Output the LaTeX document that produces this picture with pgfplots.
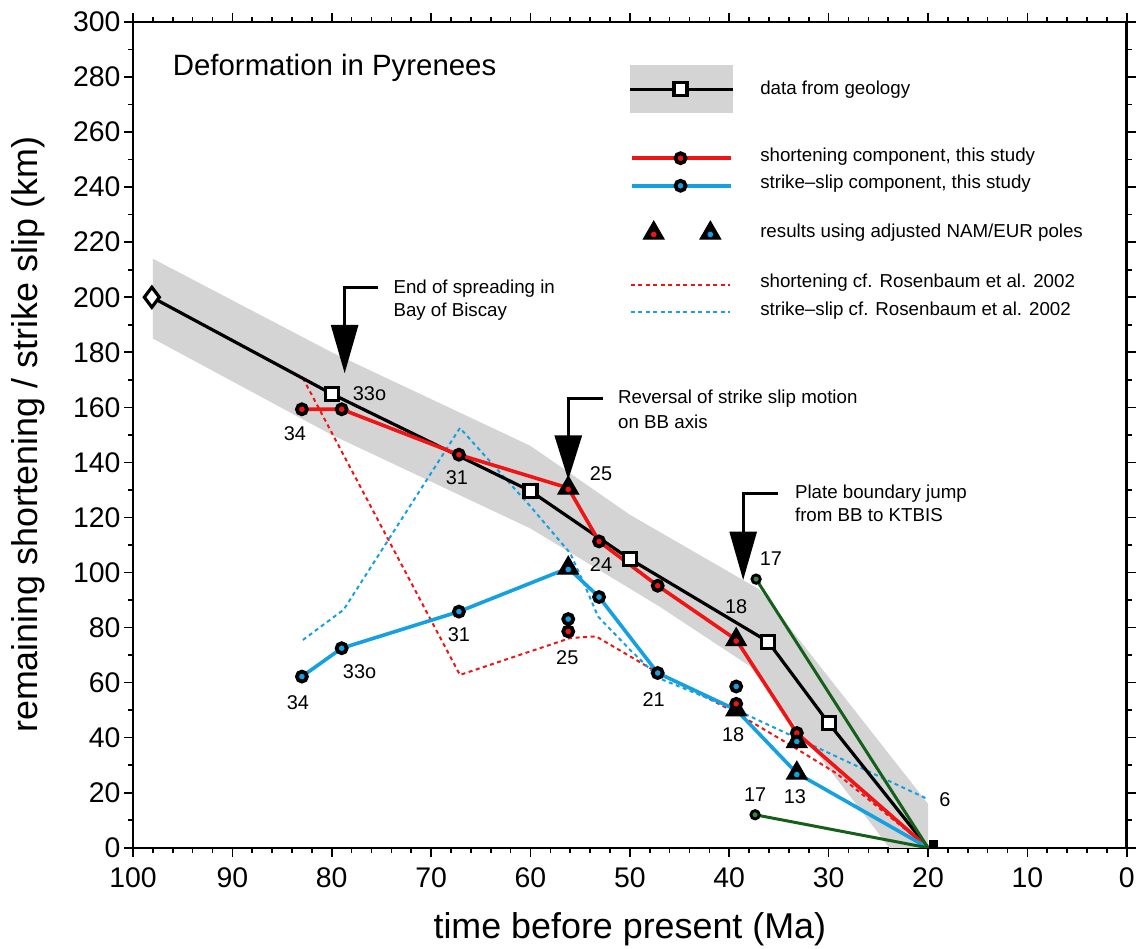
\documentclass[border=0pt]{standalone}
\usepackage{pgfplots}
\pgfplotsset{compat=1.18}
\usepackage{fontspec}
\setmainfont{Liberation Sans}
\definecolor{myred}{RGB}{240,20,20}
\definecolor{myblue}{RGB}{20,160,225}
\definecolor{mygreen}{RGB}{20,95,25}
\definecolor{band}{RGB}{212,212,212}
\begin{document}
\begin{tikzpicture}
\begin{axis}[
  scale only axis, width=994bp, height=826bp,
  x dir=reverse, xmin=0, xmax=100, ymin=0, ymax=300,
  xtick distance=10, ytick distance=20,
  minor x tick num=4, minor y tick num=1,
  tick align=outside, tick pos=both,
  major tick length=9bp, minor tick length=5bp,
  every tick/.style={black, line width=1.6bp},
  axis line style={line width=2.6bp},
  /pgf/number format/assume math mode=true,
  ticklabel style={font=\fontsize{28.5}{30}\selectfont},
  xticklabel style={yshift=-7bp},
  xlabel={time before present (Ma)},
  ylabel={remaining shortening / strike slip (km)},
  xlabel style={font=\fontsize{36}{40}\selectfont, at={(axis description cs:0.5,-0.098)}, anchor=center},
  ylabel style={font=\fontsize{36}{40}\selectfont, at={(axis description cs:-0.1056,0.5)}, anchor=center},
]
% bounding box helpers
\coordinate (bl) at (axis description cs:-0.1338,-0.1199);
\coordinate (tr) at (axis description cs:1.0111,1.0266);

% uncertainty band
\addplot[fill=band, draw=none] coordinates {
 (98,214) (80,180) (60,146) (50,121) (36.9,93.7) (20,16) (20,0) (23.9,0)
 (25.5,7.7) (37.9,65.9) (47,87.6) (60,116) (80,150) (98,185)};

% Rosenbaum et al. 2002 (dashed)
\addplot[myred, line width=2bp, dash pattern=on 4bp off 3.5bp] coordinates {
 (82.9,170.6) (67.1,62.8) (56,76.2) (53.4,76.8) (47.7,64.7) (39.3,49) (33.6,36.8) (29.2,27) (20,0)};
\addplot[myblue, line width=2bp, dash pattern=on 4bp off 3.5bp] coordinates {
 (82.9,75.5) (78.8,86.5) (67.1,152.5) (60,124) (56,107) (54.5,95) (53.2,84) (50,72) (47,61.5) (39.3,50.1) (20.2,18)};

% data from geology
\addplot[black, line width=3.2bp] coordinates {
 (98.1,200) (80,164.9) (60,129.6) (50,104.9) (36.1,74.9) (30,45.3) (20,0)};

% shortening component
\addplot[myred, line width=3.6bp] coordinates {
 (83,159.3) (79,159.3) (67.2,142.8) (56.2,130.7) (53.1,111.3) (47.2,95.2) (39.3,75.6) (33.2,41.7) (20,0)};
% strike-slip component
\addplot[myblue, line width=3.6bp] coordinates {
 (83,62.2) (79,72.5) (67.2,85.8) (56.2,101.6) (53.1,91.1) (47.2,63.5) (39.3,50.1) (33.2,27.1) (20,0)};
% green
\addplot[mygreen, line width=3bp] coordinates {(37.3,97.6) (20,0)};
\addplot[mygreen, line width=3bp] coordinates {(37.4,12) (20,0)};

% triangles (black with coloured dot)
\addplot[only marks, mark=triangle*, mark size=12bp, mark options={fill=black, draw=black, line width=1bp}] coordinates {
 (56.2,130.7) (39.3,75.6) (56.2,101.6) (33.2,27.1) (33.2,38.6) (39.3,50.1)};
\addplot[only marks, mark=*, mark size=3.2bp, mark options={fill=myred, draw=none}] coordinates {
 (56.2,130.2) (39.3,75.1)};
\addplot[only marks, mark=*, mark size=3.2bp, mark options={fill=myblue, draw=none}] coordinates {
 (56.2,101.1) (33.2,26.6) (33.2,38.1)};

% circles
\addplot[only marks, mark=*, mark size=5bp, mark options={fill=myred, draw=black, line width=3.8bp}] coordinates {
 (83,159.3) (79,159.3) (67.2,142.8) (53.1,111.3) (47.2,95.2) (56.2,78.6) (39.3,52.3) (33.2,41.7)};
\addplot[only marks, mark=*, mark size=5bp, mark options={fill=myblue, draw=black, line width=3.8bp}] coordinates {
 (83,62.2) (79,72.5) (67.2,85.8) (53.1,91.1) (47.2,63.5) (56.2,83.1) (39.3,58.6) (33.2,38.6)};
\addplot[only marks, mark=*, mark size=4.2bp, mark options={fill=mygreen!80!white, draw=black, line width=2.8bp}] coordinates {
 (37.3,97.6) (37.4,12)};

% geology markers
\addplot[only marks, mark=square*, mark size=6.5bp, mark options={fill=white, draw=black, line width=3.2bp}] coordinates {
 (80,164.9) (60,129.6) (50,104.9) (36.1,74.9) (30,45.3)};
\addplot[only marks, mark=diamond*, mark size=10bp, mark options={fill=white, draw=black, line width=3.2bp}] coordinates {(98.1,200)};
\addplot[only marks, mark=square*, mark size=4bp, mark options={fill=black, draw=black}] coordinates {(19.5,1.2)};

% point labels
\begin{scope}[every node/.style={font=\fontsize{20}{22}\selectfont, inner sep=0pt}]
\node at (axis cs:83.7,150.6) {34};
\node at (axis cs:76.2,164.9) {33o};
\node at (axis cs:67.4,134.3) {31};
\node at (axis cs:52.9,136) {25};
\node at (axis cs:52.9,102.8) {24};
\node at (axis cs:39.3,87.6) {18};
\node at (axis cs:35.8,105.2) {17};
\node at (axis cs:83.4,52.6) {34};
\node at (axis cs:77.2,64) {33o};
\node at (axis cs:67.2,77.4) {31};
\node at (axis cs:56.3,68.9) {25};
\node at (axis cs:47.6,53.8) {21};
\node at (axis cs:39.6,41) {18};
\node at (axis cs:33.4,18.6) {13};
\node at (axis cs:37.4,19.3) {17};
\node at (axis cs:18.3,17.4) {6};
\end{scope}

% title
\node[anchor=west, font=\fontsize{29.5}{32}\selectfont, inner sep=0pt] at (axis cs:96.0,283.3) {Deformation in Pyrenees};

% event arrows
\draw[line width=3bp] (axis cs:75.3,203.4) -- (axis cs:78.7,203.4) -- (axis cs:78.7,189);
\fill (axis cs:80.1,190) -- (axis cs:77.3,190) -- (axis cs:78.7,172.4) -- cycle;
\draw[line width=3bp] (axis cs:52.7,163.3) -- (axis cs:56.2,163.3) -- (axis cs:56.2,149);
\fill (axis cs:57.6,149.8) -- (axis cs:54.8,149.8) -- (axis cs:56.2,133.7) -- cycle;
\draw[line width=3bp] (axis cs:35.1,128.8) -- (axis cs:38.6,128.8) -- (axis cs:38.6,114);
\fill (axis cs:40.0,114.9) -- (axis cs:37.2,114.9) -- (axis cs:38.6,97.3) -- cycle;
\begin{scope}[every node/.style={font=\fontsize{18.8}{22}\selectfont, inner sep=0pt, anchor=west}]
\node at (axis cs:73.8,203) {End of spreading in};
\node at (axis cs:73.8,194.8) {Bay of Biscay};
\node at (axis cs:51.2,163.3) {Reversal of strike slip motion};
\node at (axis cs:51.2,154.9) {on BB axis};
\node at (axis cs:33.4,128.8) {Plate boundary jump};
\node at (axis cs:33.4,121) {from BB to KTBIS};
\end{scope}

% legend
\addplot[fill=band, draw=none] coordinates {(50,284.4) (39.6,284.4) (39.6,266.9) (50,266.9)};
\addplot[black, line width=3.2bp] coordinates {(50,275.6) (39.6,275.6)};
\addplot[only marks, mark=square*, mark size=6.5bp, mark options={fill=white, draw=black, line width=3.2bp}] coordinates {(44.9,275.6)};
\addplot[myred, line width=3.6bp] coordinates {(49.8,250.5) (39.8,250.5)};
\addplot[only marks, mark=*, mark size=5bp, mark options={fill=myred, draw=black, line width=3.8bp}] coordinates {(44.9,250.5)};
\addplot[myblue, line width=3.6bp] coordinates {(49.8,240.5) (39.8,240.5)};
\addplot[only marks, mark=*, mark size=5bp, mark options={fill=myblue, draw=black, line width=3.8bp}] coordinates {(44.9,240.5)};
\addplot[only marks, mark=triangle*, mark size=12bp, mark options={fill=black, draw=black, line width=1bp}] coordinates {(47.6,223.3) (41.9,223.3)};
\addplot[only marks, mark=*, mark size=3.2bp, mark options={fill=myred, draw=none}] coordinates {(47.6,222.8)};
\addplot[only marks, mark=*, mark size=3.2bp, mark options={fill=myblue, draw=none}] coordinates {(41.9,222.8)};
\addplot[myred, line width=2bp, dash pattern=on 4bp off 3.5bp] coordinates {(49.9,204.5) (39.9,204.5)};
\addplot[myblue, line width=2bp, dash pattern=on 4bp off 3.5bp] coordinates {(49.9,194.5) (39.9,194.5)};
\begin{scope}[every node/.style={font=\fontsize{18.8}{22}\selectfont, inner sep=0pt, anchor=west}]
\node at (axis cs:36.9,275.3) {data from geology};
\node at (axis cs:36.9,251.1) {shortening component, this study};
\node at (axis cs:36.9,241.1) {strike--slip component, this study};
\node at (axis cs:36.9,223.4) {results using adjusted NAM/EUR poles};
\node at (axis cs:36.9,205.2) {shortening cf. Rosenbaum et al. 2002};
\node at (axis cs:36.9,195.1) {strike--slip cf. Rosenbaum et al. 2002};
\end{scope}
\end{axis}
\path (bl) rectangle (tr);
\end{tikzpicture}
\end{document}
